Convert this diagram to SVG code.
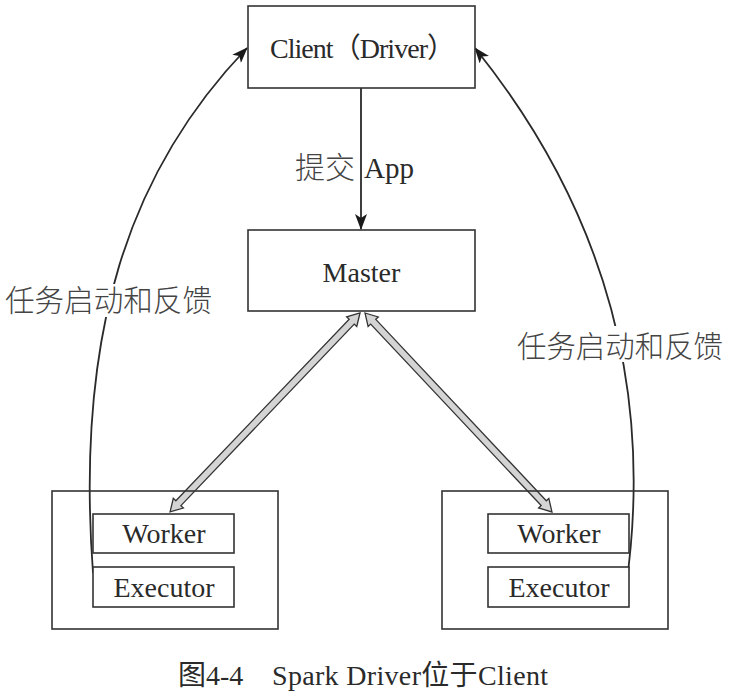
<svg xmlns="http://www.w3.org/2000/svg" width="729" height="696" viewBox="0 0 729 696">
  <style>
    .box { fill: #ffffff; stroke: #333333; stroke-width: 1.6; }
    .frame { fill: none; stroke: #333333; stroke-width: 1.6; }
    .txt { font-family: "Liberation Serif", "Noto Sans CJK SC", serif; fill: #2a2a2a; font-size: 28px; }
    .cjk { font-family: "Liberation Serif", "Noto Sans CJK SC", serif; fill: #444444; font-size: 30px; font-weight: 300; }
    .line { fill: none; stroke: #2a2a2a; stroke-width: 1.8; }
    .dbl { fill: #d4d4d4; stroke: #333333; stroke-width: 1.3; stroke-linejoin: miter; }
  </style>
  <defs>
    <marker id="ah" viewBox="0 0 16 12" refX="15" refY="6" markerWidth="16" markerHeight="12" markerUnits="userSpaceOnUse" orient="auto">
      <path d="M0,0 L16,6 L0,12 L4,6 Z" fill="#1a1a1a"/>
    </marker>
  </defs>
  <rect width="729" height="696" fill="#ffffff"/>

  <g id="connectors">
    <line class="line" x1="361" y1="88" x2="361" y2="229" marker-end="url(#ah)"/>
    <path class="line" d="M93,573 C75,330 130,170 247,48" marker-end="url(#ah)"/>
    <path class="line" d="M626,587 C662,335 565,160 475,48" marker-end="url(#ah)"/>
    <polygon class="dbl" transform="translate(360,313) rotate(133.68)" points="0,0 12,-7 12,-3.5 263,-3.5 263,-7 275,0 263,7 263,3.5 12,3.5 12,7"/>
    <polygon class="dbl" transform="translate(365,313) rotate(46.78)" points="0,0 12,-7 12,-3.5 261,-3.5 261,-7 273,0 261,7 261,3.5 12,3.5 12,7"/>
  </g>

  <g id="client">
    <rect class="box" x="248" y="6" width="227" height="82"/>
    <text class="txt" x="270" y="58" font-size="29" textLength="185" lengthAdjust="spacing">Client（Driver）</text>
  </g>

  <g id="master">
    <rect class="box" x="248" y="230" width="227" height="81"/>
    <text class="txt" x="361.5" y="282" text-anchor="middle" font-size="29">Master</text>
  </g>

  <g id="label-submit">
    <text class="txt"><tspan class="cjk" x="295" y="178" font-size="28">提交</tspan><tspan x="364" y="178" font-size="29">App</tspan></text>
  </g>

  <g id="label-left">
    <rect x="3" y="284" width="214" height="33" fill="#ffffff"/>
    <text class="cjk" x="5" y="311" textLength="207" lengthAdjust="spacingAndGlyphs">任务启动和反馈</text>
  </g>

  <g id="label-right">
    <rect x="514" y="326" width="213" height="36" fill="#ffffff"/>
    <text class="cjk" x="517" y="357" textLength="206" lengthAdjust="spacingAndGlyphs">任务启动和反馈</text>
  </g>

  <g id="node-left">
    <rect class="frame" x="52" y="491" width="226" height="138"/>
    <g id="worker-left">
      <rect class="box" x="93" y="514" width="141" height="39"/>
      <text class="txt" x="164" y="543" text-anchor="middle">Worker</text>
    </g>
    <g id="executor-left">
      <rect class="box" x="93" y="567" width="141" height="40"/>
      <text class="txt" x="164" y="597" text-anchor="middle" font-size="29">Executor</text>
    </g>
  </g>

  <g id="node-right">
    <rect class="frame" x="442" y="491" width="226" height="138"/>
    <g id="worker-right">
      <rect class="box" x="488" y="514" width="141" height="39"/>
      <text class="txt" x="559" y="543" text-anchor="middle">Worker</text>
    </g>
    <g id="executor-right">
      <rect class="box" x="488" y="567" width="141" height="40"/>
      <text class="txt" x="559" y="597" text-anchor="middle" font-size="29">Executor</text>
    </g>
  </g>

  <g id="caption">
    <text class="txt" font-size="26" fill="#111111"><tspan x="178" y="685">图4-4</tspan><tspan x="272" y="685" textLength="276" lengthAdjust="spacing">Spark Driver位于Client</tspan></text>
  </g>
</svg>
